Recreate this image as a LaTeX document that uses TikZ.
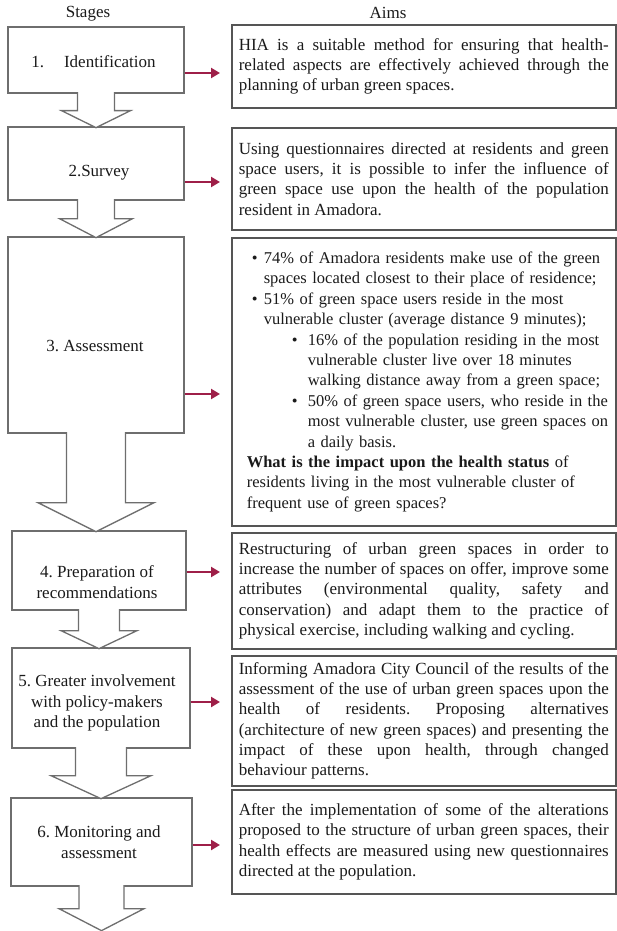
\documentclass[tikz,border=0pt]{standalone}
\usepackage{fontspec}
\setmainfont{Liberation Serif}
\usetikzlibrary{calc, arrows.meta}
\definecolor{boxgray}{HTML}{6E6E6E}
\definecolor{aimgray}{HTML}{555555}
\definecolor{linkred}{HTML}{9E1F48}
\definecolor{inkgray}{HTML}{1A1A1A}
\hbadness=10000
\hfuzz=4pt
\frenchspacing

% hollow arrow from a stage box down to the next one
% #1 box, #2 half shaft, #3 half head, #4 shaft length, #5 head length
\newcommand{\downblock}[5]{%
  \draw[blockarrow] ($(#1.south)+(-#2,-1.5)$) -- ++(0,#4+1.5) -- ++(#2-#3,0)
    -- ++(#3,#5) -- ++(#3,-#5) -- ++(#2-#3,0) -- ++(0,-#4-1.5);
}

\begin{document}
\begin{tikzpicture}[x=1pt, y=-1pt,
    stagebox/.style={draw=boxgray, line width=1.3pt, minimum width=176pt},
    stagetext/.style={align=center, text=inkgray, font=\fontsize{17}{20.5}\selectfont},
    aimbox/.style={draw=aimgray, line width=1.6pt, anchor=north west, text width=370pt,
      inner xsep=7pt, align=justify, text=inkgray, font=\fontsize{17}{20.3}\selectfont},
    linkarrow/.style={linkred, line width=2.8pt, shorten >=11pt,
      -{Triangle[length=9pt,width=10pt]}},
    blockarrow/.style={draw=boxgray, line width=1.3pt, fill=white}]
    \useasboundingbox (0,0) rectangle (616,931);

    % headings
    \node[stagetext] (stages) at (88,14) {Stages};
    \node[stagetext] (aims) at (388,13) {Aims};

    % stage boxes
    \node[stagebox, minimum height=66pt] (s1) at (96,60) {};
    \node[stagebox, minimum height=73pt] (s2) at (96,163.5) {};
    \node[stagebox, minimum height=196pt] (s3) at (96,335) {};
    \node[stagebox, minimum width=174pt, minimum height=79pt] (s4) at (99,570.5) {};
    \node[stagebox, minimum width=178pt, minimum height=100pt] (s5) at (101,698) {};
    \node[stagebox, minimum width=181pt, minimum height=88pt] (s6) at (101.5,842) {};

    \node[stagetext] (t1) at (93.5,62) {1.\hspace{20pt}Identification};
    \node[stagetext] (t2) at (99,173) {2.Survey};
    \node[stagetext] (t3) at (95,346) {3. Assessment};
    \node[stagetext] (t4) at (97,582) {4. Preparation of\\recommendations};
    \node[stagetext] (t5) at (97,703) {5. Greater involvement\\with policy-makers\\and the population};
    \node[stagetext] (t6) at (99,842) {6. Monitoring and\\assessment};

    % arrows between stages
    \downblock{s1}{18.5}{34.5}{17}{17}
    \downblock{s2}{18.5}{36.5}{18}{19}
    \downblock{s3}{29.5}{58}{69}{29}
    \downblock{s4}{20.5}{38}{20}{18}
    \downblock{s5}{25.5}{50}{27}{23}
    \downblock{s6}{22.5}{42.5}{22}{22}

    % aims
    \node[aimbox, minimum height=83pt] (a1) at (231,24) {HIA is a suitable method for ensuring that health-\linebreak related aspects are effectively achieved through the\linebreak planning of urban green spaces.};
    \node[aimbox, minimum height=102pt] (a2) at (231,127) {Using questionnaires directed at residents and green\linebreak space users, it is possible to infer the influence of\linebreak green space use upon the health of the population\linebreak resident in Amadora.};
    \node[aimbox, minimum height=288pt, align=left, font=\fontsize{16.5}{20.4}\selectfont] (a3) at (231,237) {%
      \hspace*{13pt}\makebox[12pt][l]{\textbullet}74\% of Amadora residents make use of the green\\
      \hspace*{25pt}spaces located closest to their place of residence;\\
      \hspace*{13pt}\makebox[12pt][l]{\textbullet}51\% of green space users reside in the most\\
      \hspace*{25pt}vulnerable cluster (average distance 9 minutes);\\
      \hspace*{53pt}\makebox[16pt][l]{\textbullet}16\% of the population residing in the most\\
      \hspace*{69pt}vulnerable cluster live over 18 minutes\\
      \hspace*{69pt}walking distance away from a green space;\\
      \hspace*{53pt}\makebox[16pt][l]{\textbullet}50\% of green space users, who reside in the\\
      \hspace*{69pt}most vulnerable cluster, use green spaces on\\
      \hspace*{69pt}a daily basis.\\
      \hspace*{8pt}\textbf{What is the impact upon the health status} of\\
      \hspace*{8pt}residents living in the most vulnerable cluster of\\
      \hspace*{8pt}frequent use of green spaces?};
    \node[aimbox, minimum height=116pt] (a4) at (231,532) {Restructuring of urban green spaces in order to\linebreak increase the number of spaces on offer, improve some\linebreak attributes (environmental quality, safety and\linebreak conservation) and adapt them to the practice of\linebreak physical exercise, including walking and cycling.};
    \node[aimbox, minimum height=130pt] (a5) at (231,655) {Informing Amadora City Council of the results of the\linebreak assessment of the use of urban green spaces upon the\linebreak health of residents. Proposing alternatives\linebreak (architecture of new green spaces) and presenting the\linebreak impact of these upon health, through changed\linebreak behaviour patterns.};
    \node[aimbox, minimum height=104pt] (a6) at (231,789) {After the implementation of some of the alterations\linebreak proposed to the structure of urban green spaces, their\linebreak health effects are measured using new questionnaires\linebreak directed at the population.};

    % stage to aim
    \draw[linkarrow] (s1.east |- 0,73) -- (a1.west |- 0,73);
    \draw[linkarrow] (s2.east |- 0,182) -- (a2.west |- 0,182);
    \draw[linkarrow] (s3.east |- 0,394) -- (a3.west |- 0,394);
    \draw[linkarrow] (s4.east |- 0,572) -- (a4.west |- 0,572);
    \draw[linkarrow] (s5.east |- 0,702) -- (a5.west |- 0,702);
    \draw[linkarrow] (s6.east |- 0,845) -- (a6.west |- 0,845);
\end{tikzpicture}
\end{document}
